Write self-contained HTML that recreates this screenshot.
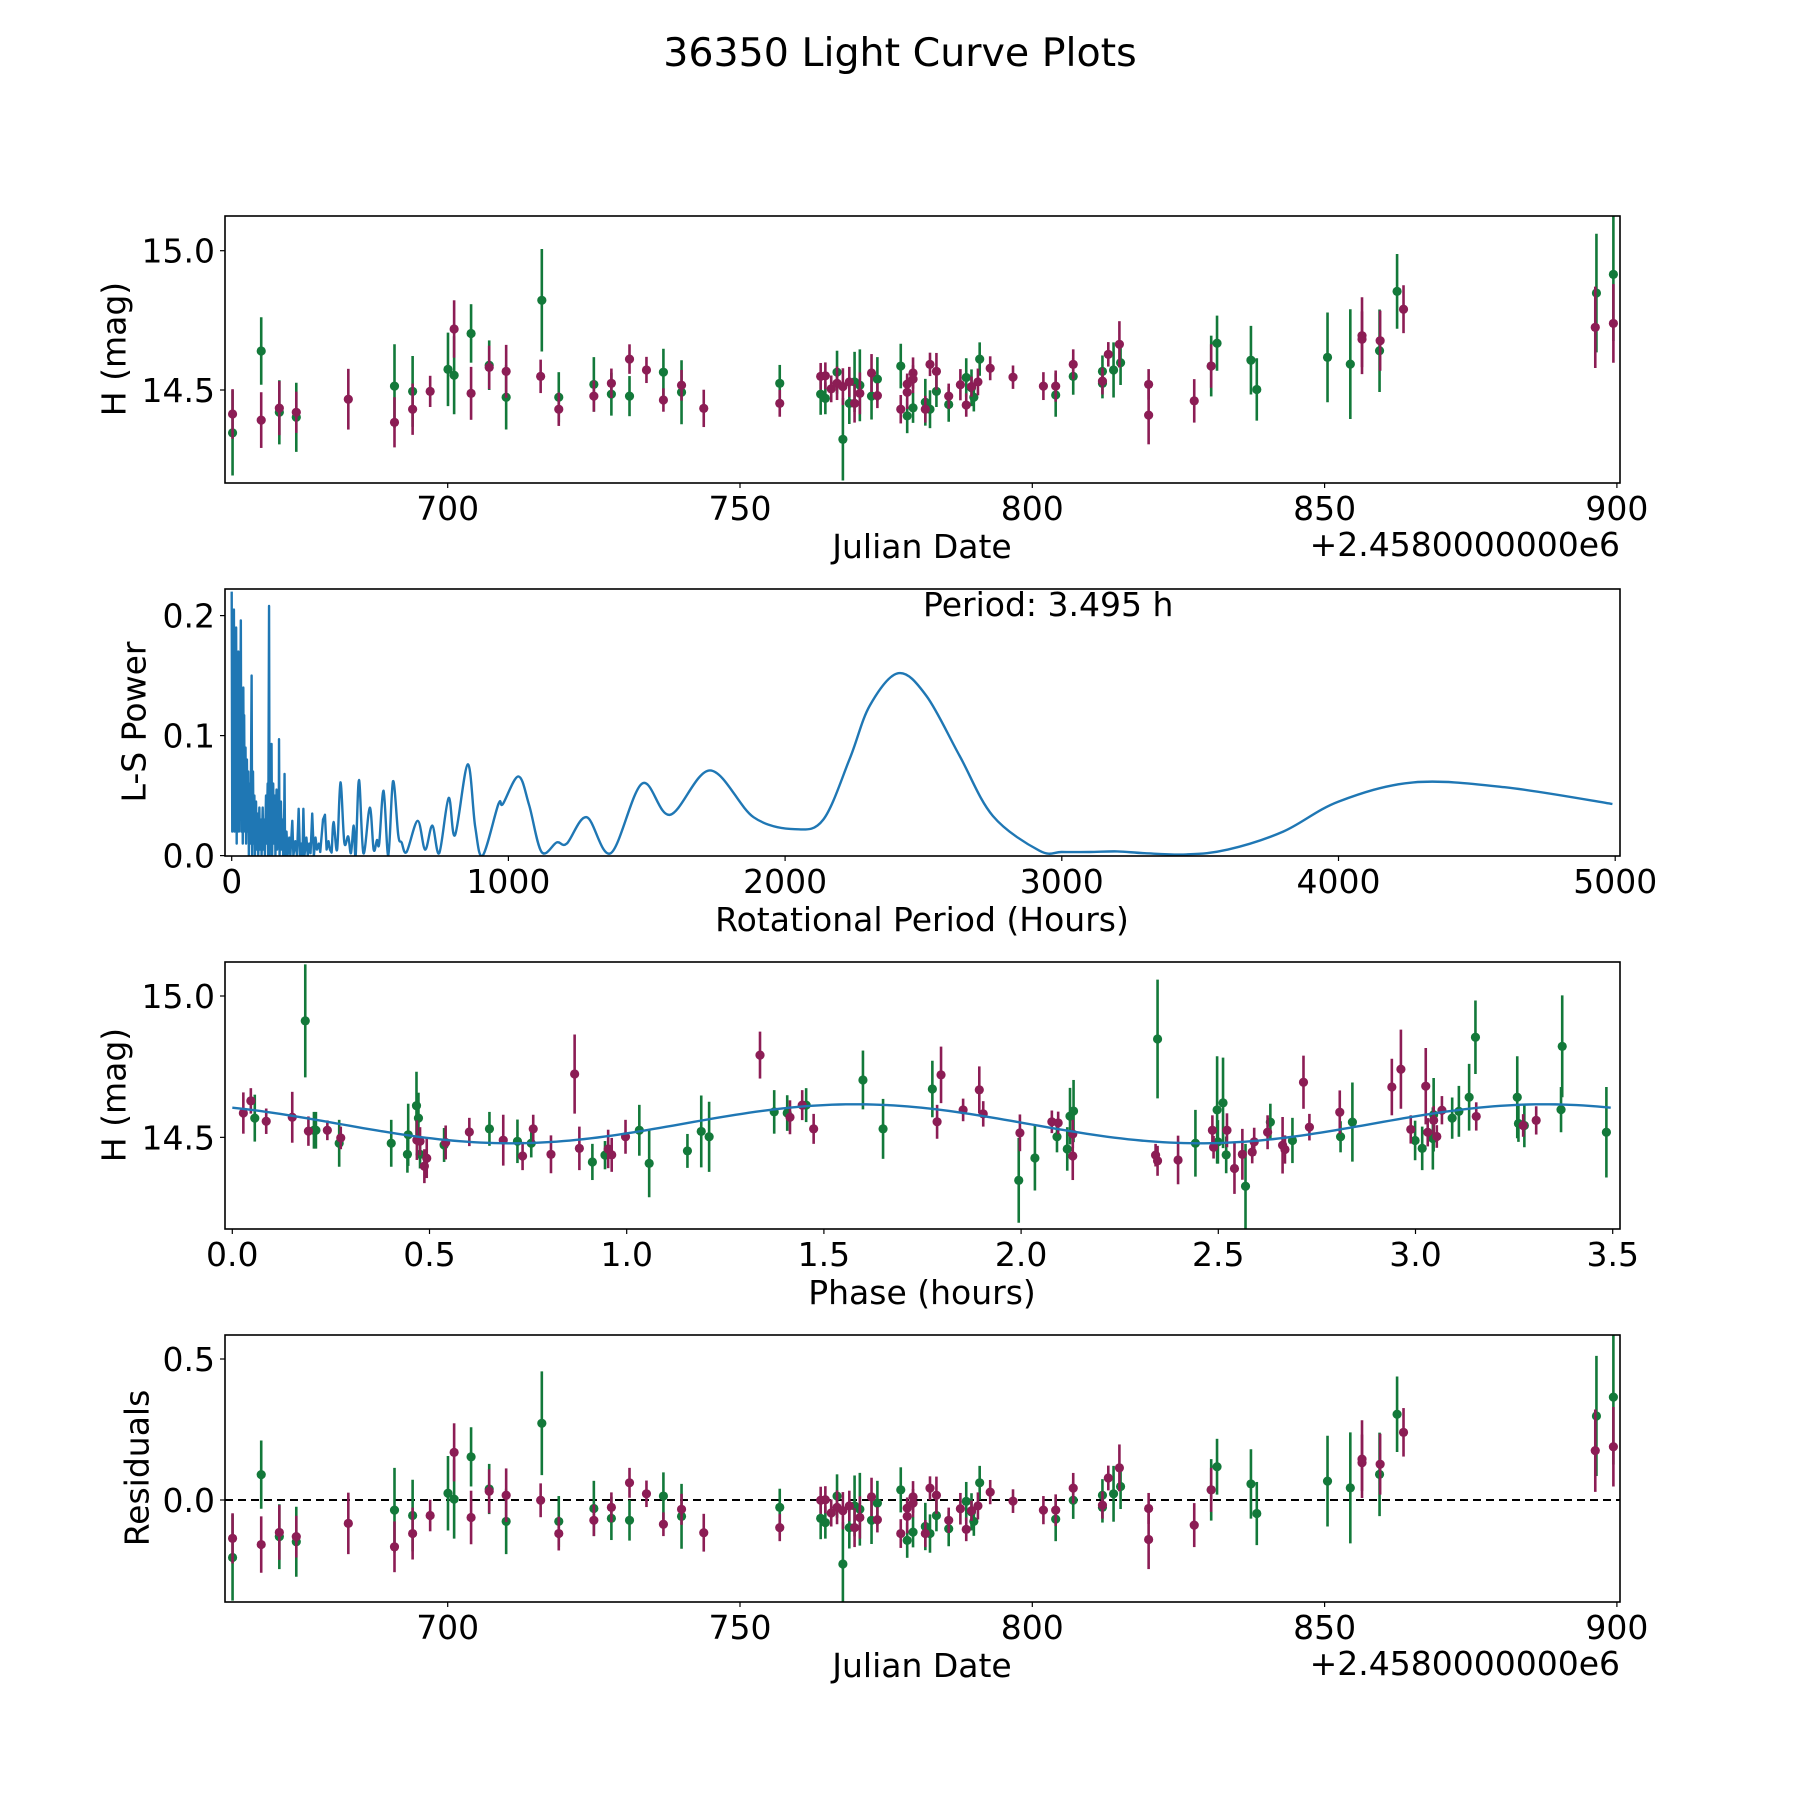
<!DOCTYPE html>
<html><head><meta charset="utf-8">
<style>
html,body{margin:0;padding:0;background:#fff;}
svg{display:block;font-family:"DejaVu Sans","Liberation Sans",sans-serif;}
</style></head>
<body>
<svg id="fig" width="1800" height="1800" viewBox="0 0 1800 1800" xmlns="http://www.w3.org/2000/svg">
<rect x="0" y="0" width="1800" height="1800" fill="#fff"/>
<text x="900" y="66" font-size="39.5" text-anchor="middle">36350 Light Curve Plots</text>
</svg>
<script>
// ---------- DATA ----------
const gDates=[663.2,668.1,671.2,674.1,690.9,694.0,700.05,701.1,704.0,707.1,710.0,716.1,719.0,725.0,728.0,731.1,736.9,740.0,756.8,763.8,764.6,766.6,767.6,768.7,769.6,770.5,772.5,773.5,777.5,778.6,779.6,781.7,782.5,783.6,785.7,788.7,789.6,790.0,791.0,804.0,807.0,812.0,812.0,813.9,815.1,830.6,831.6,837.4,838.4,850.5,854.4,859.4,862.4,896.5,899.4];
const gMags=[14.346,14.640,14.42,14.402,14.514,14.495,14.574,14.553,14.703,14.589,14.474,14.822,14.474,14.520,14.485,14.478,14.564,14.492,14.524,14.485,14.47,14.564,14.323,14.452,14.529,14.517,14.478,14.539,14.586,14.407,14.436,14.456,14.431,14.495,14.448,14.545,14.508,14.474,14.611,14.482,14.549,14.567,14.524,14.572,14.598,14.586,14.668,14.607,14.502,14.617,14.593,14.641,14.854,14.848,14.915];
const gErrs=[0.153,0.121,0.115,0.124,0.15,0.127,0.132,0.14,0.105,0.089,0.116,0.184,0.09,0.098,0.077,0.072,0.084,0.115,0.066,0.074,0.057,0.077,0.148,0.074,0.108,0.129,0.084,0.079,0.080,0.062,0.054,0.084,0.068,0.056,0.062,0.069,0.066,0.051,0.060,0.078,0.066,0.057,0.054,0.099,0.080,0.109,0.099,0.123,0.112,0.161,0.197,0.148,0.134,0.213,0.239];
const rDates=[663.2,668.1,671.2,674.1,683.0,690.9,694.0,697.0,701.1,704.0,707.1,710.0,715.9,719.0,725.0,728.0,731.1,734.0,736.9,740.0,743.8,756.8,763.8,764.6,765.6,766.6,767.6,768.7,769.6,770.5,772.5,773.5,777.5,778.6,778.6,779.6,779.6,781.7,782.5,783.6,785.7,787.7,788.7,789.6,790.7,792.8,796.7,801.9,804.0,807.0,812.0,813.0,814.9,819.9,819.9,827.7,830.6,856.4,856.4,859.5,863.5,896.3,899.4];
const rMags=[14.414,14.392,14.435,14.42,14.467,14.384,14.431,14.495,14.719,14.488,14.581,14.567,14.549,14.431,14.478,14.524,14.611,14.572,14.464,14.517,14.434,14.452,14.549,14.551,14.504,14.524,14.512,14.529,14.452,14.488,14.561,14.48,14.431,14.521,14.492,14.561,14.539,14.431,14.592,14.567,14.478,14.519,14.446,14.512,14.529,14.578,14.546,14.514,14.514,14.592,14.532,14.628,14.664,14.520,14.41,14.461,14.586,14.695,14.682,14.677,14.790,14.725,14.739];
const rErrs=[0.089,0.10,0.097,0.074,0.109,0.09,0.092,0.056,0.103,0.095,0.078,0.095,0.06,0.06,0.056,0.053,0.053,0.047,0.042,0.055,0.067,0.048,0.048,0.048,0.048,0.06,0.066,0.054,0.069,0.075,0.068,0.045,0.051,0.038,0.06,0.056,0.05,0.048,0.042,0.066,0.045,0.056,0.042,0.036,0.048,0.043,0.042,0.05,0.056,0.054,0.048,0.044,0.083,0.055,0.105,0.078,0.078,0.138,0.10,0.108,0.086,0.146,0.141];
const residualBaseline=14.55;

const gPhase=[0.057,0.185,0.207,0.212,0.271,0.403,0.444,0.446,0.467,0.472,0.476,0.537,0.652,0.723,0.758,0.913,0.945,1.032,1.057,1.154,1.189,1.209,1.374,1.407,1.455,1.599,1.65,1.775,1.994,2.035,2.091,2.117,2.124,2.133,2.346,2.442,2.497,2.499,2.512,2.52,2.569,2.632,2.688,2.81,2.84,2.999,3.017,3.046,3.044,3.093,3.11,3.136,3.152,3.258,3.261,3.276,3.369,3.372,3.484];
const gPhaseMags=[14.568,14.912,14.525,14.525,14.479,14.479,14.44,14.509,14.612,14.568,14.44,14.473,14.53,14.486,14.479,14.413,14.437,14.525,14.408,14.452,14.521,14.502,14.59,14.586,14.614,14.703,14.53,14.671,14.348,14.427,14.502,14.459,14.575,14.593,14.848,14.479,14.597,14.484,14.622,14.438,14.327,14.554,14.489,14.502,14.554,14.489,14.461,14.58,14.496,14.568,14.592,14.642,14.854,14.642,14.549,14.542,14.598,14.822,14.518];
const gPhaseErrs=[0.083,0.2,0.065,0.065,0.083,0.083,0.065,0.11,0.12,0.09,0.05,0.06,0.06,0.077,0.05,0.064,0.05,0.09,0.12,0.06,0.127,0.124,0.077,0.063,0.06,0.104,0.106,0.1,0.15,0.115,0.055,0.077,0.1,0.11,0.21,0.118,0.19,0.077,0.16,0.065,0.15,0.065,0.08,0.055,0.14,0.07,0.077,0.13,0.11,0.073,0.09,0.118,0.13,0.145,0.065,0.077,0.08,0.18,0.16];
const rPhase=[0.028,0.047,0.086,0.152,0.193,0.241,0.275,0.468,0.476,0.487,0.493,0.541,0.601,0.687,0.736,0.763,0.808,0.868,0.88,0.953,0.962,0.997,1.338,1.414,1.445,1.474,1.787,1.797,1.853,1.894,1.904,1.997,2.078,2.094,2.131,2.131,2.341,2.346,2.398,2.485,2.488,2.522,2.541,2.561,2.586,2.591,2.625,2.663,2.669,2.716,2.731,2.808,2.94,2.963,2.988,3.026,3.031,3.046,3.054,3.067,3.154,3.273,3.306];
const rPhaseMags=[14.586,14.629,14.557,14.571,14.522,14.525,14.498,14.49,14.486,14.398,14.426,14.482,14.519,14.49,14.434,14.53,14.44,14.724,14.461,14.459,14.438,14.502,14.791,14.571,14.614,14.53,14.555,14.721,14.597,14.668,14.583,14.516,14.555,14.551,14.512,14.434,14.437,14.417,14.42,14.525,14.465,14.525,14.39,14.44,14.448,14.484,14.518,14.472,14.457,14.695,14.536,14.589,14.678,14.741,14.528,14.681,14.518,14.56,14.503,14.596,14.574,14.542,14.56];
const rPhaseErrs=[0.073,0.045,0.045,0.09,0.052,0.035,0.04,0.07,0.05,0.06,0.07,0.06,0.05,0.09,0.05,0.05,0.067,0.14,0.077,0.068,0.06,0.06,0.083,0.06,0.053,0.053,0.06,0.1,0.04,0.083,0.045,0.065,0.04,0.04,0.05,0.085,0.04,0.053,0.086,0.053,0.04,0.06,0.09,0.09,0.04,0.05,0.06,0.1,0.05,0.094,0.047,0.077,0.1,0.14,0.05,0.135,0.05,0.05,0.04,0.05,0.05,0.04,0.05];
const modelMean=14.548, modelAmp=0.069, modelPeak=1.58, modelHalfPeriod=1.7475, periodHours=3.495;

const lsPeriods=[0,2,4,6,8,10,12,14,16,18,20,22,24,26,28,30,33,35,38,40,42,44,45,47,50,52,55,57,60,62,66,68,72,74,77,79,82,84,88,90,94,96,100,102,106,108,112,114,118,120,124,126,130,132,135,137,140,142,144,146,150,152,156,158,162,164,168,170,171,173,178,180,184,186,190,191,193,198,202,208,212,219,223,230,236,242,247,252,256,259,263,270,275,280,285,291,297,303,308,315,320,330,337,343,350,355,361,368,381,393,407,421,431,441,448,460,476,499,513,525,533,549,566,583,602,614,632,672,699,725,750,784,807,853,880,907,964,980,1036,1075,1120,1175,1211,1283,1370,1483,1584,1729,1886,2036,2138,2234,2306,2409,2511,2631,2751,2920,3000,3100,3200,3300,3450,3600,3800,4000,4270,4600,4990];
const lsPower=[0.22,0.02,0.18,0.03,0.205,0.02,0.16,0.04,0.19,0.01,0.13,0.03,0.17,0.02,0.12,0.05,0.196,0.02,0.10,0.01,0.14,0.02,0.117,0.03,0.09,0.01,0.08,0.02,0.07,0.0,0.06,0.01,0.15,0.0,0.07,0.01,0.05,0.0,0.045,0.005,0.035,0.0,0.04,0.005,0.03,0.0,0.04,0.005,0.03,0.0,0.05,0.01,0.06,0.0,0.208,0.0,0.07,0.01,0.093,0.0,0.06,0.01,0.05,0.0,0.055,0.005,0.04,0.01,0.097,0.0,0.045,0.005,0.03,0.0,0.04,0.068,0.0,0.02,0.0,0.015,0.0,0.029,0.0,0.012,0.0,0.039,0.0,0.01,0.0,0.039,0.0,0.015,0.0,0.01,0.002,0.035,0.0,0.015,0.005,0.01,0.003,0.03,0.034,0.005,0.012,0.005,0.0025,0.028,0.005,0.061,0.011,0.016,0.002,0.025,0.0,0.063,0.002,0.040,0.005,0.013,0.01,0.054,0.0,0.062,0.017,0.011,0.003,0.029,0.005,0.025,0.002,0.048,0.017,0.076,0.024,0.0,0.043,0.043,0.066,0.042,0.003,0.011,0.010,0.032,0.002,0.060,0.034,0.071,0.032,0.022,0.030,0.081,0.125,0.152,0.133,0.083,0.033,0.004,0.003,0.003,0.0035,0.002,0.001,0.005,0.02,0.045,0.061,0.057,0.043];
const lsSmoothFrom=361;

const jdTicks=[700,750,800,850,900];
const magTicks=[14.5,15.0];
const magTickLabels=["14.5","15.0"];
const lsXTicks=[0,1000,2000,3000,4000,5000];
const lsYTicks=[0,0.1,0.2];
const lsYTickLabels=["0.0","0.1","0.2"];
const phaseTicks=[0,0.5,1.0,1.5,2.0,2.5,3.0,3.5];
const phaseTickLabels=["0.0","0.5","1.0","1.5","2.0","2.5","3.0","3.5"];
const resTicks=[0,0.5];
const resTickLabels=["0.0","0.5"];

// ---------- DRAW ----------
const NS="http://www.w3.org/2000/svg";
const svg=document.getElementById('fig');
const G_COL="#13793a", R_COL="#8c1d55", BLUE="#1f77b4";
const FS=33;
function mk(tag,attrs,parent){const e=document.createElementNS(NS,tag);for(const k in attrs)e.setAttribute(k,attrs[k]);(parent||svg).appendChild(e);return e;}
const L=225,R=1620;
const xJD=d=>447.7+(d-700)*5.846;
const yMag1=m=>250.7+(15-m)*278.6;
const xLS=p=>231.7+p*0.2767;
const yLS=v=>855.6-v*1200;
const xPh=p=>232.3+p*394.4;
const yMag3=m=>996+(15-m)*282.7;
const yRes=v=>1500-v*282;

function axesBox(top,bot,name){
  const g=mk('g',{});
  
  
  const cp=mk('clipPath',{id:'clip-'+name},g);
  mk('rect',{x:L,y:top,width:R-L,height:bot-top},cp);
  const plot=mk('g',{'clip-path':'url(#clip-'+name+')'},g);
  return {g,plot,top,bot};
}
function frame(ax){
  const f=mk('rect',{x:L,y:ax.top,width:R-L,height:ax.bot-ax.top,fill:'none',stroke:'#000','stroke-width':1.6},ax.g);
  
  
}
function xTicks(ax,vals,labels,fx){
  vals.forEach((v,i)=>{
    const x=fx(v);
    mk('line',{x1:x,x2:x,y1:ax.bot,y2:ax.bot+5,stroke:'#000','stroke-width':1.2},ax.g);
    const t=mk('text',{x:x,y:ax.bot+37,'font-size':FS,'text-anchor':'middle'},ax.g);
    
    
    t.textContent=labels[i];
  });
}
function yTicks(ax,vals,labels,fy){
  vals.forEach((v,i)=>{
    const y=fy(v);
    mk('line',{x1:L-5,x2:L,y1:y,y2:y,stroke:'#000','stroke-width':1.2},ax.g);
    const t=mk('text',{x:L-10,y:y+12,'font-size':FS,'text-anchor':'end'},ax.g);
    
    
    t.textContent=labels[i];
  });
}
function label(ax,txt,x,y,rot,name){
  const t=mk('text',{x:x,y:y,'font-size':FS,'text-anchor':'middle'},ax.g);
  if(rot){t.setAttribute('transform','rotate(-90 '+x+' '+y+')');t.setAttribute('dominant-baseline','central');}
  
  
  t.textContent=txt;
}
function errPoints(ax,xs,ys,es,fx,fy,col,name){
  xs.forEach((x,i)=>{
    const px=fx(x), py=fy(ys[i]);
    const l=mk('line',{x1:px,x2:px,y1:fy(ys[i]+es[i]),y2:fy(ys[i]-es[i]),stroke:col,'stroke-width':2.6},ax.plot);
    
    
    const c=mk('circle',{cx:px,cy:py,r:4.6,fill:col},ax.plot);
    
    
  });
}
const jdLabels=jdTicks.map(String);

// Panel 1
const a1=axesBox(216,483,'light-curve-axes');
errPoints(a1,gDates,gMags,gErrs,xJD,yMag1,G_COL,'green-filter');
errPoints(a1,rDates,rMags,rErrs,xJD,yMag1,R_COL,'red-filter');
frame(a1);xTicks(a1,jdTicks,jdLabels,xJD);yTicks(a1,magTicks,magTickLabels,yMag1);
label(a1,'Julian Date',922,558,false,'x-axis-title');
(function(){const t=mk('text',{x:R,y:556,'font-size':FS,'text-anchor':'end'},a1.g);t.textContent='+2.4580000000e6';})();
label(a1,'H (mag)',114,349,true,'y-axis-title');

// Panel 2
const a2=axesBox(589,856,'periodogram-axes');
(function(){
  const pts=lsPeriods.map((p,i)=>[xLS(p),yLS(lsPower[i]),p]);
  let d='';
  for(let i=0;i<pts.length;i++){
    const [x,y,p]=pts[i];
    if(i===0){d+='M'+x.toFixed(2)+' '+y.toFixed(2)+' ';continue;}
    if(p<=lsSmoothFrom){d+='L'+x.toFixed(2)+' '+y.toFixed(2)+' ';continue;}
    const p0=pts[Math.max(0,i-2)],p1=pts[i-1],p2=pts[i],p3=pts[Math.min(pts.length-1,i+1)];
    const c1x=p1[0]+(p2[0]-p0[0])/6,c1y=p1[1]+(p2[1]-p0[1])/6;
    const c2x=p2[0]-(p3[0]-p1[0])/6,c2y=p2[1]-(p3[1]-p1[1])/6;
    d+='C'+c1x.toFixed(2)+' '+c1y.toFixed(2)+' '+c2x.toFixed(2)+' '+c2y.toFixed(2)+' '+x.toFixed(2)+' '+y.toFixed(2)+' ';
  }
  const pth=mk('path',{d:d,fill:'none',stroke:BLUE,'stroke-width':2.4,'stroke-linejoin':'round'},a2.plot);
  
  
})();
frame(a2);xTicks(a2,lsXTicks,lsXTicks.map(String),xLS);yTicks(a2,lsYTicks,lsYTickLabels,yLS);
label(a2,'Rotational Period (Hours)',922,931,false,'x-axis-title');
label(a2,'L-S Power',134,722,true,'y-axis-title');
(function(){const t=mk('text',{x:923,y:616,'font-size':FS},a2.g);t.textContent='Period: '+periodHours.toFixed(3)+' h';})();

// Panel 3
const a3=axesBox(962,1229,'phase-axes');
errPoints(a3,gPhase,gPhaseMags,gPhaseErrs,xPh,yMag3,G_COL,'green-filter');
errPoints(a3,rPhase,rPhaseMags,rPhaseErrs,xPh,yMag3,R_COL,'red-filter');
(function(){
  let d='';
  for(let i=0;i<=200;i++){const p=periodHours*i/200;const m=modelMean+modelAmp*Math.cos(2*Math.PI*(p-modelPeak)/modelHalfPeriod);d+=(i?'L':'M')+xPh(p).toFixed(2)+' '+yMag3(m).toFixed(2)+' ';}
  const pth=mk('path',{d:d,fill:'none',stroke:BLUE,'stroke-width':2.4},a3.plot);
  
  
})();
frame(a3);xTicks(a3,phaseTicks,phaseTickLabels,xPh);yTicks(a3,magTicks,magTickLabels,yMag3);
label(a3,'Phase (hours)',922,1304,false,'x-axis-title');
label(a3,'H (mag)',114,1095,true,'y-axis-title');

// Panel 4
const a4=axesBox(1335,1602,'residuals-axes');
(function(){
  const l=mk('line',{x1:L,x2:R,y1:yRes(0),y2:yRes(0),stroke:'#000','stroke-width':2,'stroke-dasharray':'8,5'},a4.plot);
  
  
})();
errPoints(a4,gDates,gMags.map(m=>m-residualBaseline),gErrs,xJD,yRes,G_COL,'green-residual');
errPoints(a4,rDates,rMags.map(m=>m-residualBaseline),rErrs,xJD,yRes,R_COL,'red-residual');
frame(a4);xTicks(a4,jdTicks,jdLabels,xJD);yTicks(a4,resTicks,resTickLabels,yRes);
label(a4,'Julian Date',922,1677,false,'x-axis-title');
(function(){const t=mk('text',{x:R,y:1675,'font-size':FS,'text-anchor':'end'},a4.g);t.textContent='+2.4580000000e6';})();
label(a4,'Residuals',137,1468,true,'y-axis-title');
</script>
</body></html>
